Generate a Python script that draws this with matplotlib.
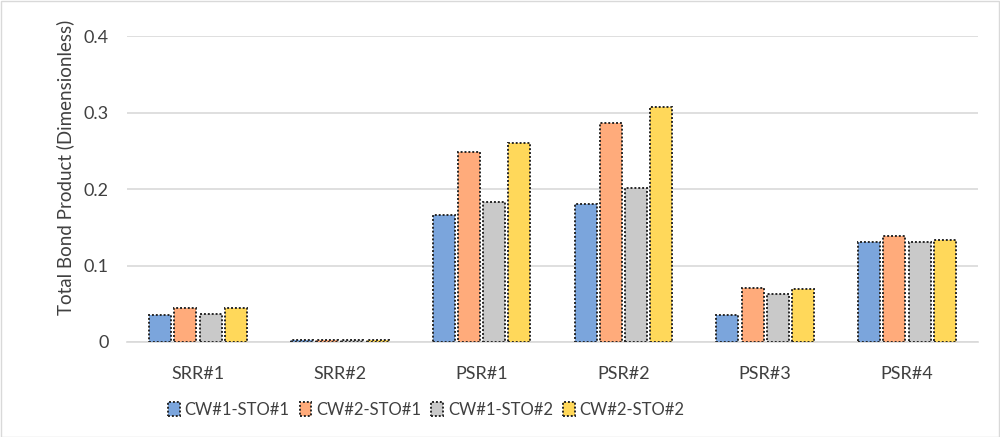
import matplotlib
matplotlib.use("Agg")
import matplotlib.pyplot as plt
import numpy as np
from matplotlib.patches import Rectangle

plt.rcParams['font.family'] = ['Lato', 'DejaVu Sans']

categories = ["SRR#1", "SRR#2", "PSR#1", "PSR#2", "PSR#3", "PSR#4"]
series_names = ["CW#1-STO#1", "CW#2-STO#1", "CW#1-STO#2", "CW#2-STO#2"]
cw1_sto1 = [0.035, 0.003, 0.166, 0.180, 0.035, 0.131]
cw2_sto1 = [0.044, 0.003, 0.248, 0.287, 0.070, 0.138]
cw1_sto2 = [0.037, 0.003, 0.183, 0.202, 0.063, 0.131]
cw2_sto2 = [0.044, 0.003, 0.260, 0.307, 0.069, 0.134]
yticks = [0, 0.1, 0.2, 0.3, 0.4]
ytick_labels = ["0", "0.1", "0.2", "0.3", "0.4"]

colors = ["#7BA5DC", "#FFAB7B", "#C9C9C9", "#FFD85A"]
series = [cw1_sto1, cw2_sto1, cw1_sto2, cw2_sto2]

fig = plt.figure(figsize=(10, 4.37), dpi=100)
fig.patches.append(Rectangle((0.001, 0.001), 0.998, 0.997, transform=fig.transFigure,
                             fill=False, edgecolor="#D9D9D9", linewidth=1.0))
ax = fig.add_axes([0.127, 0.2174, 0.851, 0.700])

x = np.arange(len(categories))
w = 0.155
step = 0.178
for i, (vals, c, name) in enumerate(zip(series, colors, series_names)):
    ax.bar(x + (i - 1.5) * step, vals, width=w, color=c, edgecolor="#262626",
           linewidth=1.4, linestyle=(0, (1, 1)), label=name, zorder=3)

ax.set_xlim(-0.5, len(categories) - 0.5)
ax.set_ylim(0, 0.4)
ax.set_yticks(yticks)
ax.set_yticklabels(ytick_labels)
ax.set_xticks(x)
ax.set_xticklabels(categories)
ax.grid(axis="y", color="#D9D9D9", linewidth=1.2, zorder=0)
for s in ["top", "right", "left"]:
    ax.spines[s].set_visible(False)
ax.spines["bottom"].set_color("#D9D9D9")
ax.spines["bottom"].set_linewidth(1.2)
ax.tick_params(axis="both", length=0, labelsize=13, colors="#404040")
ax.tick_params(axis="x", pad=17)
ax.tick_params(axis="y", pad=13)
ax.set_ylabel("Total Bond Product (Dimensionless)", fontsize=13.5, color="#404040", labelpad=12)
ax.yaxis.set_label_coords(-0.062, 0.57)

leg = fig.legend(loc="center left", bbox_to_anchor=(0.153, 0.062), ncol=4, frameon=False,
                 fontsize=12, handlelength=0.7, handleheight=0.9, handletextpad=0.3,
                 columnspacing=0.6, labelcolor="#404040")

fig.savefig("out.png", dpi=100)
